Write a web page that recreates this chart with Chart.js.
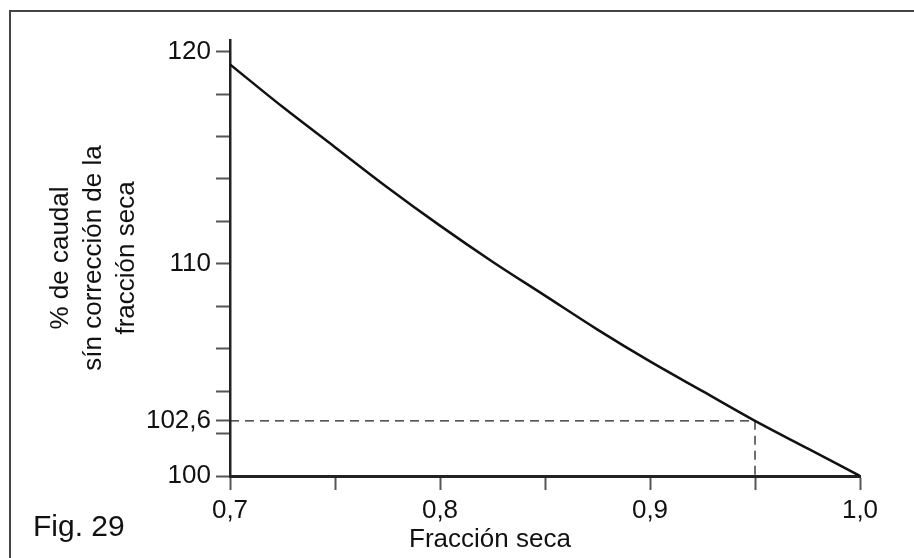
<!DOCTYPE html>
<html>
<head>
<meta charset="utf-8">
<script src="https://cdn.jsdelivr.net/npm/chart.js@4.4.1/dist/chart.umd.min.js"></script>
<style>
  html, body { margin: 0; padding: 0; background: #fff; }
  #wrap { width: 914px; height: 558px; position: relative; }
</style>
</head>
<body>
<div id="wrap"><canvas id="chart"></canvas></div>
<script>
'use strict';
// curve: fraccion seca -> % de caudal
const fraccion = [0.70, 0.725, 0.75, 0.775, 0.80, 0.825, 0.85, 0.875, 0.90, 0.925, 0.95, 0.975, 1.00];
const caudal   = [119.4, 117.4, 115.5, 113.6, 111.8, 110.1, 108.5, 106.9, 105.4, 104.0, 102.6, 101.3, 100.0];

// dashed marker at 0,95 / 102,6
const markX = 0.95,
	markY = 102.6;

const xTicks = [0.70, 0.75, 0.80, 0.85, 0.90, 0.95, 1.00];
const xTickLabels = ['0,7', '', '0,8', '', '0,9', '', '1,0'];
const yTicks = [100, 102, 102.6, 104, 106, 108, 110, 112, 114, 116, 118, 120];
const yTickLabels = ['100', '', '102,6', '', '', '', '110', '', '', '', '', '120'];

const FONT = "'Liberation Sans', Arial, sans-serif";

//draws the frame and the loose texts
const extras = {
	id: 'extras',
	afterDraw(chart) {
		const ctx = chart.ctx;
		ctx.save();
		ctx.strokeStyle = '#444';
		ctx.lineWidth = 2;
		ctx.beginPath();
		ctx.moveTo(10, 558);
		ctx.lineTo(10, 11);
		ctx.lineTo(914, 11);
		ctx.stroke();
		ctx.fillStyle = '#111';
		ctx.textBaseline = 'alphabetic';
		ctx.font = "30px " + FONT;
		ctx.textAlign = 'left';
		ctx.fillText('Fig. 29', 33, 536);
		ctx.font = "26px " + FONT;
		ctx.textAlign = 'center';
		ctx.fillText('Fracción seca', 490, 547);
		ctx.restore();
	}
};

const points = fraccion.map((f, i) => ({x: f, y: caudal[i]}));
const dashed = [{x: xTicks[0], y: markY}, {x: markX, y: markY}, {x: markX, y: yTicks[0]}];

new Chart(document.getElementById('chart'), {
	type: 'line',
	data: {
		datasets: [{
			data: points,
			borderColor: '#111',
			borderWidth: 2.5,
			pointRadius: 0,
			cubicInterpolationMode: 'monotone',
			fill: false
		}, {
			data: dashed,
			borderColor: '#222',
			borderWidth: 1.3,
			borderDash: [9, 6],
			pointRadius: 0,
			tension: 0,
			fill: false
		}]
	},
	options: {
		responsive: true,
		maintainAspectRatio: false,
		animation: false,
		layout: { padding: { left: 28, right: 54, top: 40, bottom: 0 } },
		plugins: { legend: { display: false }, tooltip: { enabled: false } },
		scales: {
			x: {
				type: 'linear',
				min: 0.7,
				max: 1.0,
				afterBuildTicks: s => { s.ticks = xTicks.map(v => ({value: v})); },
				afterFit: s => { s.height = 82; },
				border: { display: true, color: '#222', width: 3 },
				grid: { drawOnChartArea: false, drawTicks: true, tickLength: 14, tickColor: '#555', tickWidth: 2 },
				ticks: {
					autoSkip: false,
					maxRotation: 0,
					padding: 5,
					color: '#111',
					font: { family: FONT, size: 26 },
					callback: (v, i) => xTickLabels[i]
				}
			},
			y: {
				type: 'linear',
				min: 100,
				max: 120.55,
				afterBuildTicks: s => { s.ticks = yTicks.map(v => ({value: v})); },
				afterFit: s => { s.width = 202; },
				border: { display: true, color: '#222', width: 2.5 },
				grid: { drawOnChartArea: false, drawTicks: true, tickLength: 14, tickColor: '#555', tickWidth: 2 },
				ticks: {
					autoSkip: false,
					padding: 5,
					color: '#111',
					font: { family: FONT, size: 26 },
					callback: (v, i) => yTickLabels[i]
				},
				title: {
					display: true,
					text: ['% de caudal', 'sín corrección de la', 'fracción seca'],
					color: '#111',
					font: { family: FONT, size: 26, lineHeight: 1.27 },
					padding: { top: 16, bottom: 0 }
				}
			}
		}
	},
	plugins: [extras]
});
</script>
</body>
</html>
